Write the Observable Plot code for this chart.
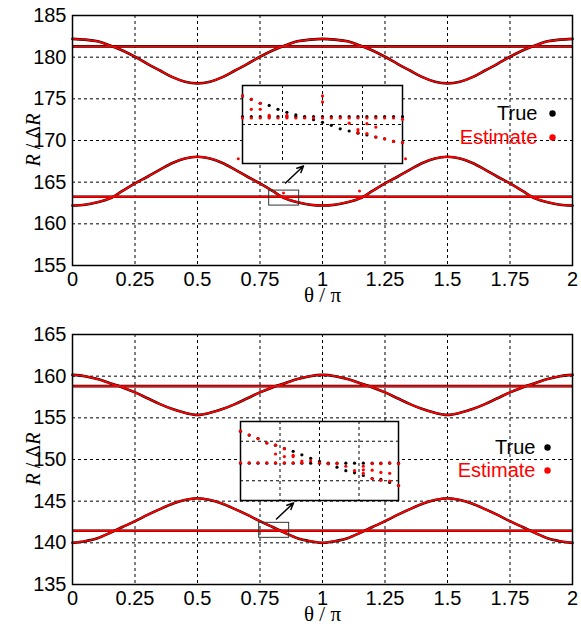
<!DOCTYPE html>
<html><head><meta charset="utf-8">
<script src="https://cdn.jsdelivr.net/npm/d3@7"></script>
<script src="https://cdn.jsdelivr.net/npm/@observablehq/plot@0.6"></script>
<style>
body{margin:0;background:#fff;}
.panel{position:relative;width:581px;height:314px;}
.inset{position:absolute;}
svg{overflow:visible;}
</style></head><body>
<div id="top" class="panel"></div>
<div id="bottom" class="panel"></div>
<script>
// θ/π sample grid
const theta = [0,0.05,0.1,0.15,0.2,0.25,0.3,0.35,0.4,0.45,0.5,0.55,0.6,0.65,0.7,0.75,0.8,0.85,0.9,0.95,1,
  1.05,1.1,1.15,1.2,1.25,1.3,1.35,1.4,1.45,1.5,1.55,1.6,1.65,1.7,1.75,1.8,1.85,1.9,1.95,2];
// top panel curves
const topUpper = [182.2,182.1,181.9,181.4,180.8,180.05,179.2,178.4,177.6,177.05,176.85,177.05,177.6,178.4,179.2,180.05,180.8,181.4,181.9,182.1,182.2,
  182.1,181.9,181.4,180.8,180.05,179.2,178.4,177.6,177.05,176.85,177.05,177.6,178.4,179.2,180.05,180.8,181.4,181.9,182.1,182.2];
const topLower = [162.2,162.3,162.6,163.05,163.95,164.85,165.65,166.5,167.3,167.85,168.05,167.85,167.3,166.5,165.65,164.85,163.95,163.05,162.6,162.3,162.2,
  162.3,162.6,163.05,163.95,164.85,165.65,166.5,167.3,167.85,168.05,167.85,167.3,166.5,165.65,164.85,163.95,163.05,162.6,162.3,162.2];
const topFlat = [181.3, 163.25];
// bottom panel curves
const botUpper = [160.15,160.0,159.65,159.15,158.65,158.05,157.35,156.65,156.05,155.6,155.35,155.6,156.05,156.65,157.35,158.05,158.65,159.15,159.65,160.0,160.15,
  160.0,159.65,159.15,158.65,158.05,157.35,156.65,156.05,155.6,155.35,155.6,156.05,156.65,157.35,158.05,158.65,159.15,159.65,160.0,160.15];
const botLower = [140.0,140.2,140.55,141.2,141.9,142.6,143.35,144.05,144.7,145.15,145.35,145.15,144.7,144.05,143.35,142.6,141.9,141.2,140.55,140.2,140.0,
  140.2,140.55,141.2,141.9,142.6,143.35,144.05,144.7,145.15,145.35,145.15,144.7,144.05,143.35,142.6,141.9,141.2,140.55,140.2,140.0];
const botFlat = [158.8, 141.45];
// stray estimates in top panel
const topOutTheta = [0.663, 0.844, 1.148, 1.332];
const topOutR = [167.82, 163.7, 163.94, 167.82];
// ticks
const xTicks = [0,0.25,0.5,0.75,1,1.25,1.5,1.75,2];
const topYTicks = [155,160,165,170,175,180,185];
const botYTicks = [135,140,145,150,155,160,165];
// insets
const insetTopTheta = [0.7867,0.7933,0.8,0.8067,0.8133,0.82,0.8267,0.8333,0.84,0.8467,0.8533,0.86,0.8667,0.8733,0.88,0.8867,0.8933,0.9,0.9067];
const insetTopX = [0.7867, 0.9067];
const insetTopY = [162.19, 163.99];
const insetTopGridX = [0.8167, 0.8467, 0.8767];
const insetTopGridY = [163.09];
const insetTopTrueCurve = [163.75,163.67,163.58,163.53,163.44,163.37,163.31,163.26,163.20,163.14,163.07,162.99,162.94,162.89,162.85,162.80,162.76,162.70,162.67];
const insetTopTrueFlat = 163.27;
const insetTopEst = [[163.75,163.24],[163.67,163.44,163.24],[163.58,163.44,163.24],[163.30,163.24],[163.24],[163.30,163.24],[163.24],[163.24],[163.24],
  [163.75,163.61,163.24],[163.24],[163.24],[163.12,163.24],[162.97,162.91,163.24],[163.11,162.88,163.24],[163.03,162.80,163.24],[162.76,163.24],[162.70,163.24],[162.67,163.21]];
const insetBotTheta = [0.7467,0.7533,0.76,0.7667,0.7733,0.78,0.7867,0.7933,0.8,0.8067,0.8133,0.82,0.8267,0.8333,0.84,0.8467,0.8533,0.86,0.8667];
const insetBotX = [0.7467, 0.8667];
const insetBotY = [140.6, 142.4];
const insetBotGridX = [0.7767, 0.8067, 0.8367];
const insetBotGridY = [141.05, 141.95];
const insetBotTrueCurve = [142.18,142.09,142.01,141.91,141.86,141.78,141.72,141.64,141.56,141.49,141.44,141.36,141.28,141.23,141.17,141.10,141.08,141.01,140.94];
const insetBotTrueFlat = 141.45;
const insetBotEst = [[142.18,141.46],[142.09,141.46],[142.01,141.46],[141.91,141.46],[141.86,141.66,141.46],[141.78,141.60,141.46],[141.63,141.60,141.46],
  [141.50,141.46],[141.50],[141.46],[141.44],[141.44],[141.38],[141.28],[141.38,141.30,141.22],[141.44,141.29,141.10],[141.44,141.24,141.06],[141.46,141.22,141.04],[141.44,140.94]];
// arrows [x1,y1,x2,y2]
const arrowTop = [0.852, 164.9, 0.924, 166.94];
const arrowBot = [0.816, 142.86, 0.884, 144.78];
const legendLabels = ["True", "Estimate"];
const legendColors = ["#000", "#f00"];

const RED = "#f00";
const dash = {stroke: "#000", strokeOpacity: 1, strokeWidth: 1, strokeDasharray: "3,3"};

function mainPanel(el, o) {
  const rows = c => theta.map((t, i) => ({t, r: c[i]}));
  const outs = (o.outT || []).map((t, i) => ({t, r: o.outR[i]}));
  const box = {x1: o.insetX[0], x2: o.insetX[1], y1: o.insetY[0], y2: o.insetY[1]};
  const ar = {x1: o.arrow[0], y1: o.arrow[1], x2: o.arrow[2], y2: o.arrow[3]};
  const marks = [
    Plot.ruleX(xTicks.slice(1, -1), dash),
    Plot.ruleY(o.yTicks.slice(1, -1), dash),
    ...o.curves.map(c => Plot.line(rows(c), {x: "t", y: "r", stroke: "#000", strokeWidth: 2.6, curve: "monotone-x"})),
    Plot.ruleY(o.flats, {stroke: "#000", strokeWidth: 2.6}),
    ...o.curves.map(c => Plot.line(rows(c), {x: "t", y: "r", stroke: RED, strokeWidth: 1.8, curve: "monotone-x"})),
    Plot.ruleY(o.flats, {stroke: RED, strokeWidth: 1.8}),
    Plot.dot(outs, {x: "t", y: "r", r: 1.5, fill: RED}),
    Plot.rect([box], {x1: "x1", x2: "x2", y1: "y1", y2: "y2", stroke: "#333", strokeWidth: 1, fill: "none"}),
    Plot.arrow([ar], {x1: "x1", y1: "y1", x2: "x2", y2: "y2", stroke: "#000", strokeWidth: 1.5, headLength: 7, headAngle: 50}),
    Plot.frame({stroke: "#000", strokeWidth: 1.5}),
    Plot.axisX({ticks: xTicks, tickSize: 0, tickPadding: 6, fontSize: 20, tickFormat: d => String(d), label: null}),
    Plot.axisY({ticks: o.yTicks, tickSize: 0, tickPadding: 6, fontSize: 20, tickFormat: d => String(d), label: null}),
    Plot.text(["θ / π"], {frameAnchor: "bottom", lineAnchor: "middle", dy: 30, fontSize: 21, fontFamily: "Liberation Serif, serif", fill: "#000"}),
    ...legendLabels.map((l, i) => Plot.text([l], {frameAnchor: "top-right", lineAnchor: "middle", dx: o.legTextDx, dy: o.legDy[i], textAnchor: "end", fontSize: 20, fill: legendColors[i]})),
    ...legendLabels.map((l, i) => Plot.dot([l], {frameAnchor: "top-right", dx: o.legDotDx, dy: o.legDy[i], r: 3.2, fill: legendColors[i]}))
  ];
  const svg = Plot.plot({
    width: 581, height: 314,
    marginLeft: 72, marginRight: 9, marginTop: o.marginTop, marginBottom: 314 - o.marginTop - 250,
    x: {domain: [0, 2], label: null},
    y: {domain: [o.yTicks[0], o.yTicks[o.yTicks.length - 1]], label: null},
    style: {fontFamily: "Liberation Sans, Arial, sans-serif", fontSize: "20px", background: "white", color: "#000"},
    marks
  });
  const t = d3.select(svg).append("text")
    .attr("transform", `translate(40, ${o.marginTop + 125}) rotate(-90)`)
    .attr("text-anchor", "middle")
    .attr("font-family", "Liberation Serif, serif")
    .attr("font-size", 20).attr("fill", "#000");
  t.append("tspan").attr("font-style", "italic").text("R");
  t.append("tspan").text(" / Δ");
  t.append("tspan").attr("font-style", "italic").text("R");
  el.appendChild(svg);
}

function inset(el, o) {
  const m = 6;
  const trueRows = o.th.flatMap((t, i) => [{t, r: o.trueCurve[i]}, {t, r: o.trueFlat}]);
  const estRows = o.th.flatMap((t, i) => o.est[i].map(r => ({t, r})));
  const svg = Plot.plot({
    width: o.w + 2 * m, height: o.h + 2 * m,
    marginLeft: m, marginRight: m, marginTop: m, marginBottom: m,
    x: {domain: o.xd, axis: null},
    y: {domain: o.yd, axis: null},
    style: {background: "transparent", overflow: "visible"},
    marks: [
      Plot.frame({fill: "white", stroke: "none"}),
      Plot.ruleX(o.gx, dash),
      Plot.ruleY(o.gy, dash),
      Plot.frame({stroke: "#000", strokeWidth: 1.5}),
      Plot.dot(trueRows, {x: "t", y: "r", r: 1.6, fill: "#000"}),
      Plot.dot(estRows, {x: "t", y: "r", r: 1.6, fill: RED})
    ]
  });
  const div = document.createElement("div");
  div.className = "inset";
  div.style.left = (o.left - m) + "px";
  div.style.top = (o.top - m) + "px";
  div.appendChild(svg);
  el.appendChild(div);
}

const topEl = document.getElementById("top");
const botEl = document.getElementById("bottom");
mainPanel(topEl, {yTicks: topYTicks, curves: [topUpper, topLower], flats: topFlat, outT: topOutTheta, outR: topOutR,
  insetX: insetTopX, insetY: insetTopY, arrow: arrowTop, marginTop: 15, legTextDx: -35, legDotDx: -20, legDy: [98, 122]});
mainPanel(botEl, {yTicks: botYTicks, curves: [botUpper, botLower], flats: botFlat, outT: [], outR: [],
  insetX: insetBotX, insetY: insetBotY, arrow: arrowBot, marginTop: 20, legTextDx: -37, legDotDx: -25, legDy: [113, 136]});
inset(topEl, {th: insetTopTheta, trueCurve: insetTopTrueCurve, trueFlat: insetTopTrueFlat, est: insetTopEst,
  xd: insetTopX, yd: insetTopY, gx: insetTopGridX, gy: insetTopGridY, left: 242, top: 85, w: 160, h: 78});
inset(botEl, {th: insetBotTheta, trueCurve: insetBotTrueCurve, trueFlat: insetBotTrueFlat, est: insetBotEst,
  xd: insetBotX, yd: insetBotY, gx: insetBotGridX, gy: insetBotGridY, left: 240, top: 107, w: 158, h: 79});
</script>
</body></html>
